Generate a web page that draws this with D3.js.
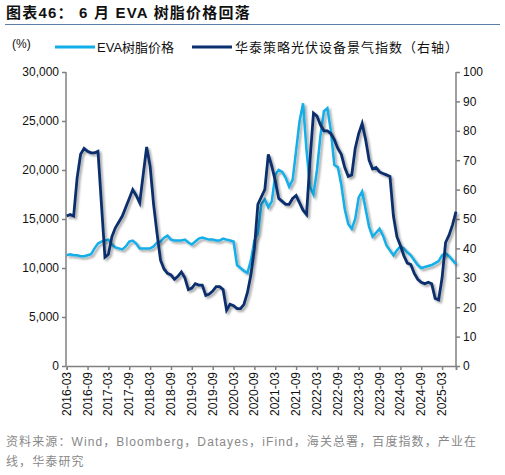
<!DOCTYPE html>
<html><head><meta charset="utf-8">
<script src="https://cdn.jsdelivr.net/npm/d3@7"></script>
<style>body{margin:0;background:#fff;font-family:"Liberation Sans",Arial,"Noto Sans CJK SC",sans-serif}</style>
</head><body><div id="chart"></div>
<script>
// monthly, 2016-03 .. 2025-07
let evaPrice = [11300,11400,11300,11300,11200,11200,11300,11400,12000,12500,12700,12800,12900,
    12400,12100,12000,11900,12200,12700,12800,12500,12000,12000,12000,12000,12200,12600,12700,
    13100,13300,12900,12800,12800,12800,12900,12600,12400,12700,13000,13100,13000,12900,12900,
    12800,12800,13000,12900,12800,12700,10300,10000,9700,9500,10800,12800,13500,16500,17000,
    16200,16800,19500,20000,19800,19200,18300,19000,22000,25000,26800,22000,18300,17500,20000,
    23500,26000,26300,24000,20500,20300,18500,16000,14500,14000,15000,17200,17800,16000,14200,
    13200,13600,14000,13300,12300,11800,11300,11800,12200,12000,11600,11300,10800,10300,10000,
    10100,10200,10300,10500,10700,11300,11500,11200,10800,10400];
let pvIndex = [51,51.5,51,64,72,74,73,72.5,72.5,73,55,37,38,44,47,49,51,54,57,60,58,55.5,65,74.5,
    68,55,45,36,33,31.5,31,29.5,30.5,32,30,26,26.5,28,27.5,27.5,24,24.5,25.5,27,27,26,19,21,
    20.5,19.5,19.5,21,25,31,40,55,57.5,60,72,68,63,57,56,55,55,57,58,55.5,53,51.5,70,86,85,82,
    80,80,79,77,74,72,67.5,64.5,65,74,79,82.5,77,70,67,67.5,66,65.5,65,64.5,51,44,41,37.5,35,
    34.5,31.5,29.5,28.5,28,28.5,28,23,22.5,30,42,44.5,48,52.5];
let leftTicks = [0,5000,10000,15000,20000,25000,30000];
let rightTicks = [0,10,20,30,40,50,60,70,80,90,100];
let xLabels = ["2016-03","2016-09","2017-03","2017-09","2018-03","2018-09","2019-03","2019-09",
    "2020-03","2020-09","2021-03","2021-09","2022-03","2022-09","2023-03","2023-09","2024-03",
    "2024-09","2025-03"];

const W = 505, H = 475;
const m = {left: 66, right: 49, top: 72, bottom: 109};
const svg = d3.select("#chart").append("svg").attr("width", W).attr("height", H);

const defs = svg.append("defs");
defs.append("filter").attr("id", "sh").attr("x", "-5%").attr("y", "-5%").attr("width", "110%").attr("height", "115%")
    .append("feDropShadow").attr("dx", 2).attr("dy", 2).attr("stdDeviation", 1.2)
    .attr("flood-color", "#000").attr("flood-opacity", 0.35);

// title
svg.append("text").attr("x", 6).attr("y", 18).attr("font-size", 15).attr("font-weight", "bold")
    .attr("letter-spacing", 1.2).attr("fill", "#111").text("图表46：  6 月 EVA 树脂价格回落");
svg.append("line").attr("x1", 5).attr("x2", 500).attr("y1", 24.5).attr("y2", 24.5)
    .attr("stroke", "#5b7fa8").attr("stroke-width", 1);

const x = d3.scaleLinear().domain([0, 112]).range([m.left + 0.7, W - m.right]);
const yL = d3.scaleLinear().domain([0, 30000]).range([H - m.bottom, m.top]);
const yR = d3.scaleLinear().domain([0, 100]).range([H - m.bottom, m.top]);

const axisCol = "#808080";
const gL = svg.append("g").attr("transform", `translate(${m.left},0)`)
    .call(d3.axisLeft(yL).tickValues(leftTicks).tickFormat(d3.format(",")).tickSize(4));
const gR = svg.append("g").attr("transform", `translate(${W - m.right},0)`)
    .call(d3.axisRight(yR).tickValues(rightTicks).tickSize(4));
const gX = svg.append("g").attr("transform", `translate(0,${H - m.bottom})`)
    .call(d3.axisBottom(x).tickValues(d3.range(0, 19).map(i => i * 6).concat([112])).tickFormat("").tickSize(4));
[gL, gR, gX].forEach(g => {
    g.selectAll("path,line").attr("stroke", axisCol).attr("stroke-width", 1.5);
    g.selectAll("text").attr("font-size", 12).attr("fill", "#111")
        .attr("font-family", '"Liberation Sans",Arial,sans-serif');
});
gL.select(".domain").attr("d", `M0,${m.top}V${H - m.bottom}`);
gR.select(".domain").attr("d", `M0,${m.top}V${H - m.bottom}`);

// x labels rotated
svg.append("g").selectAll("text").data(xLabels).enter().append("text")
    .attr("transform", (d, i) => `translate(${x(i * 6) + 4},${H - m.bottom + 6}) rotate(-90)`)
    .attr("text-anchor", "end").attr("font-size", 12).attr("fill", "#111").text(d => d);

svg.append("text").attr("x", 12).attr("y", 48).attr("font-size", 12).attr("fill", "#111").text("(%)");

// lines
const lineL = d3.line().x((d, i) => x(i)).y(d => yL(d));
const lineR = d3.line().x((d, i) => x(i)).y(d => yR(d));
svg.append("path").datum(evaPrice).attr("d", lineL).attr("fill", "none")
    .attr("stroke", "#12aee8").attr("stroke-width", 2.5).attr("filter", "url(#sh)");
svg.append("path").datum(pvIndex).attr("d", lineR).attr("fill", "none")
    .attr("stroke", "#0a2f6c").attr("stroke-width", 2.8).attr("filter", "url(#sh)");

// legend
const lg = svg.append("g").attr("font-size", 13).attr("fill", "#111");
lg.append("line").attr("x1", 55).attr("x2", 95).attr("y1", 47).attr("y2", 47).attr("stroke", "#12aee8").attr("stroke-width", 3);
lg.append("text").attr("x", 97).attr("y", 51.5).text("EVA树脂价格");
lg.append("line").attr("x1", 192).attr("x2", 232).attr("y1", 47).attr("y2", 47).attr("stroke", "#0a2f6c").attr("stroke-width", 3);
lg.append("text").attr("x", 235).attr("y", 51.5).attr("letter-spacing", 1).text("华泰策略光伏设备景气指数（右轴）");

// source
const src = svg.append("g").attr("font-size", 12).attr("fill", "#888").attr("letter-spacing", 1.1);
src.append("text").attr("x", 6).attr("y", 446).text("资料来源：Wind，Bloomberg，Datayes，iFind，海关总署，百度指数，产业在");
src.append("text").attr("x", 6).attr("y", 466).text("线，华泰研究");
</script></body></html>
